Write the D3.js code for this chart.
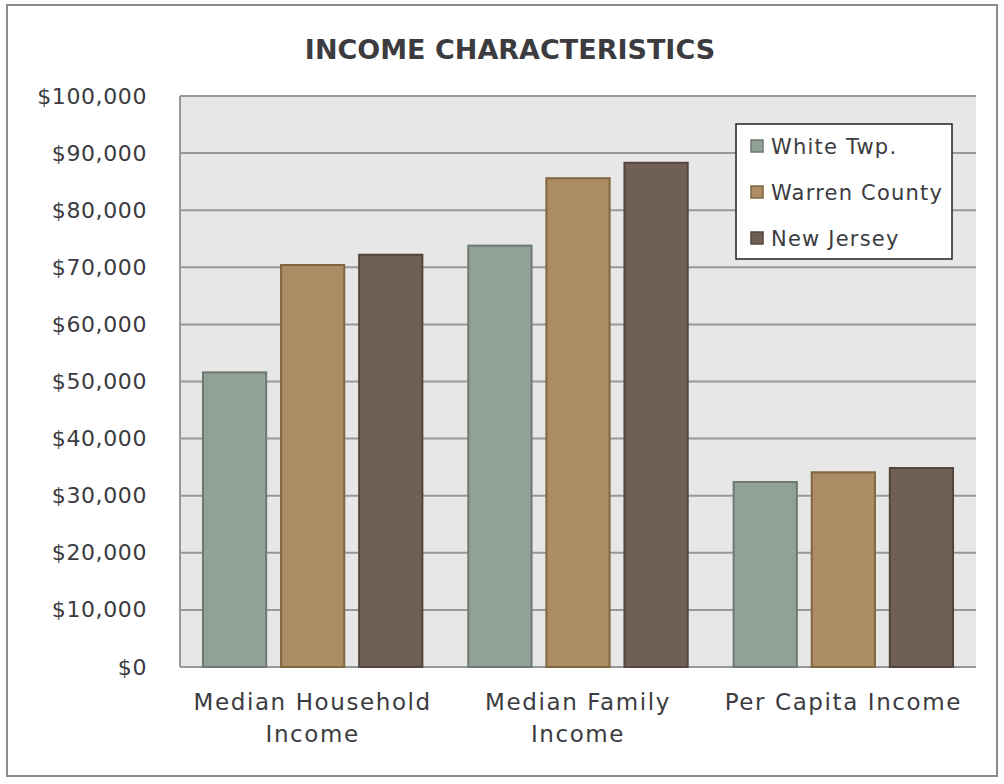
<!DOCTYPE html>
<html>
<head>
<meta charset="utf-8">
<script src="https://cdn.jsdelivr.net/npm/d3@7"></script>
<style>
  body { margin: 0; background: #ffffff; }
  text { font-family: "DejaVu Sans", sans-serif; fill: #3b3b40; }
</style>
</head>
<body>
<div id="chart"></div>
<script>
// Data
var categories = ["Median Household Income", "Median Family Income", "Per Capita Income"];
var categoryLines = [["Median Household", "Income"], ["Median Family", "Income"], ["Per Capita Income"]];
var seriesNames = ["White Twp.", "Warren County", "New Jersey"];
var whiteTwp = [51600, 73800, 32400];
var warrenCounty = [70400, 85600, 34100];
var newJersey = [72200, 88300, 34850];
var yTicks = [0, 10000, 20000, 30000, 40000, 50000, 60000, 70000, 80000, 90000, 100000];

var fills = ["#92a197", "#ab8c64", "#705f54"];
var strokes = ["#6c7a70", "#80673f", "#54463c"];

var seriesValues = [whiteTwp, warrenCounty, newJersey];

// SVG setup
var svgWidth = 1004;
var svgHeight = 784;
var plot = { left: 180, right: 976, top: 96, bottom: 667 };

var svg = d3.select("#chart")
            .append("svg")
            .attr("width", svgWidth)
            .attr("height", svgHeight);

// outer frame
svg.append("rect")
   .attr("x", 7).attr("y", 5)
   .attr("width", 990).attr("height", 771)
   .attr("fill", "#ffffff")
   .attr("stroke", "#8c8c8c")
   .attr("stroke-width", 2);

// title
svg.append("text")
   .attr("x", 510).attr("y", 59)
   .attr("text-anchor", "middle")
   .attr("font-size", "27px")
   .attr("font-weight", "bold")
   .attr("fill", "#2b2b30")
   .text("INCOME CHARACTERISTICS");

// scales
var x0 = d3.scaleBand()
           .domain(categories)
           .range([plot.left, plot.right])
           .paddingInner(0.173)
           .paddingOuter(0.0865);

var x1 = d3.scaleBand()
           .domain(seriesNames)
           .range([0, x0.bandwidth()])
           .paddingInner(0.19)
           .paddingOuter(0);

var yScale = d3.scaleLinear()
               .domain([0, 100000])
               .range([plot.bottom, plot.top]);

// plot background
svg.append("rect")
   .attr("x", plot.left).attr("y", plot.top)
   .attr("width", plot.right - plot.left)
   .attr("height", plot.bottom - plot.top)
   .attr("fill", "#e7e7e7");

// gridlines
svg.append("g")
   .selectAll("line")
   .data(yTicks)
   .enter()
   .append("line")
   .attr("x1", plot.left).attr("x2", plot.right)
   .attr("y1", function(d) { return yScale(d); })
   .attr("y2", function(d) { return yScale(d); })
   .attr("stroke", "#989898")
   .attr("stroke-width", 2);

// left axis line
svg.append("line")
   .attr("x1", plot.left).attr("x2", plot.left)
   .attr("y1", plot.top).attr("y2", plot.bottom)
   .attr("stroke", "#989898")
   .attr("stroke-width", 2);

// y axis labels
var fmt = d3.format("$,");
var yAxis = d3.axisLeft(yScale)
              .tickValues(yTicks)
              .tickFormat(fmt)
              .tickSize(0)
              .tickPadding(33);
var yg = svg.append("g")
            .attr("transform", "translate(" + plot.left + ",0)")
            .call(yAxis);
yg.select(".domain").remove();
yg.selectAll("text")
  .attr("font-size", "22px")
  .attr("fill", "#3b3b40")
  .style("letter-spacing", "0.6px")
  .style("font-family", "DejaVu Sans, sans-serif");

// bars
var groups = svg.append("g")
                .selectAll("g")
                .data(categories)
                .enter()
                .append("g")
                .attr("transform", function(d) { return "translate(" + x0(d) + ",0)"; });

groups.selectAll("rect")
      .data(function(d, i) {
        return seriesNames.map(function(s, j) { return { series: s, idx: j, value: seriesValues[j][i] }; });
      })
      .enter()
      .append("rect")
      .attr("x", function(d) { return x1(d.series); })
      .attr("y", function(d) { return yScale(d.value); })
      .attr("width", x1.bandwidth())
      .attr("height", function(d) { return yScale(0) - yScale(d.value); })
      .attr("fill", function(d) { return fills[d.idx]; })
      .attr("stroke", function(d) { return strokes[d.idx]; })
      .attr("stroke-width", 2);

// x labels
var xl = svg.append("g")
            .selectAll("text")
            .data(categories)
            .enter()
            .append("text")
            .attr("x", function(d) { return x0(d) + x0.bandwidth() / 2; })
            .attr("y", 710)
            .attr("text-anchor", "middle")
            .attr("font-size", "23px")
            .style("letter-spacing", "1.6px");

xl.selectAll("tspan")
  .data(function(d, i) { return categoryLines[i]; })
  .enter()
  .append("tspan")
  .attr("x", function() { return d3.select(this.parentNode).attr("x"); })
  .attr("dy", function(d, i) { return i === 0 ? 0 : 32; })
  .text(function(d) { return d; });

// legend
var legend = svg.append("g").attr("transform", "translate(736,124)");
legend.append("rect")
      .attr("width", 216).attr("height", 135)
      .attr("fill", "#ffffff")
      .attr("stroke", "#222222")
      .attr("stroke-width", 1.5);

var items = legend.selectAll("g.item")
                  .data(seriesNames)
                  .enter()
                  .append("g")
                  .attr("class", "item")
                  .attr("transform", function(d, i) { return "translate(0," + (22 + i * 46) + ")"; });

items.append("rect")
     .attr("x", 15).attr("y", -6)
     .attr("width", 12).attr("height", 12)
     .attr("fill", function(d, i) { return fills[i]; })
     .attr("stroke", function(d, i) { return strokes[i]; })
     .attr("stroke-width", 1.5);

items.append("text")
     .attr("x", 35).attr("y", 8)
     .attr("font-size", "21px")
     .style("letter-spacing", "1.2px")
     .text(function(d) { return d; });
</script>
</body>
</html>
